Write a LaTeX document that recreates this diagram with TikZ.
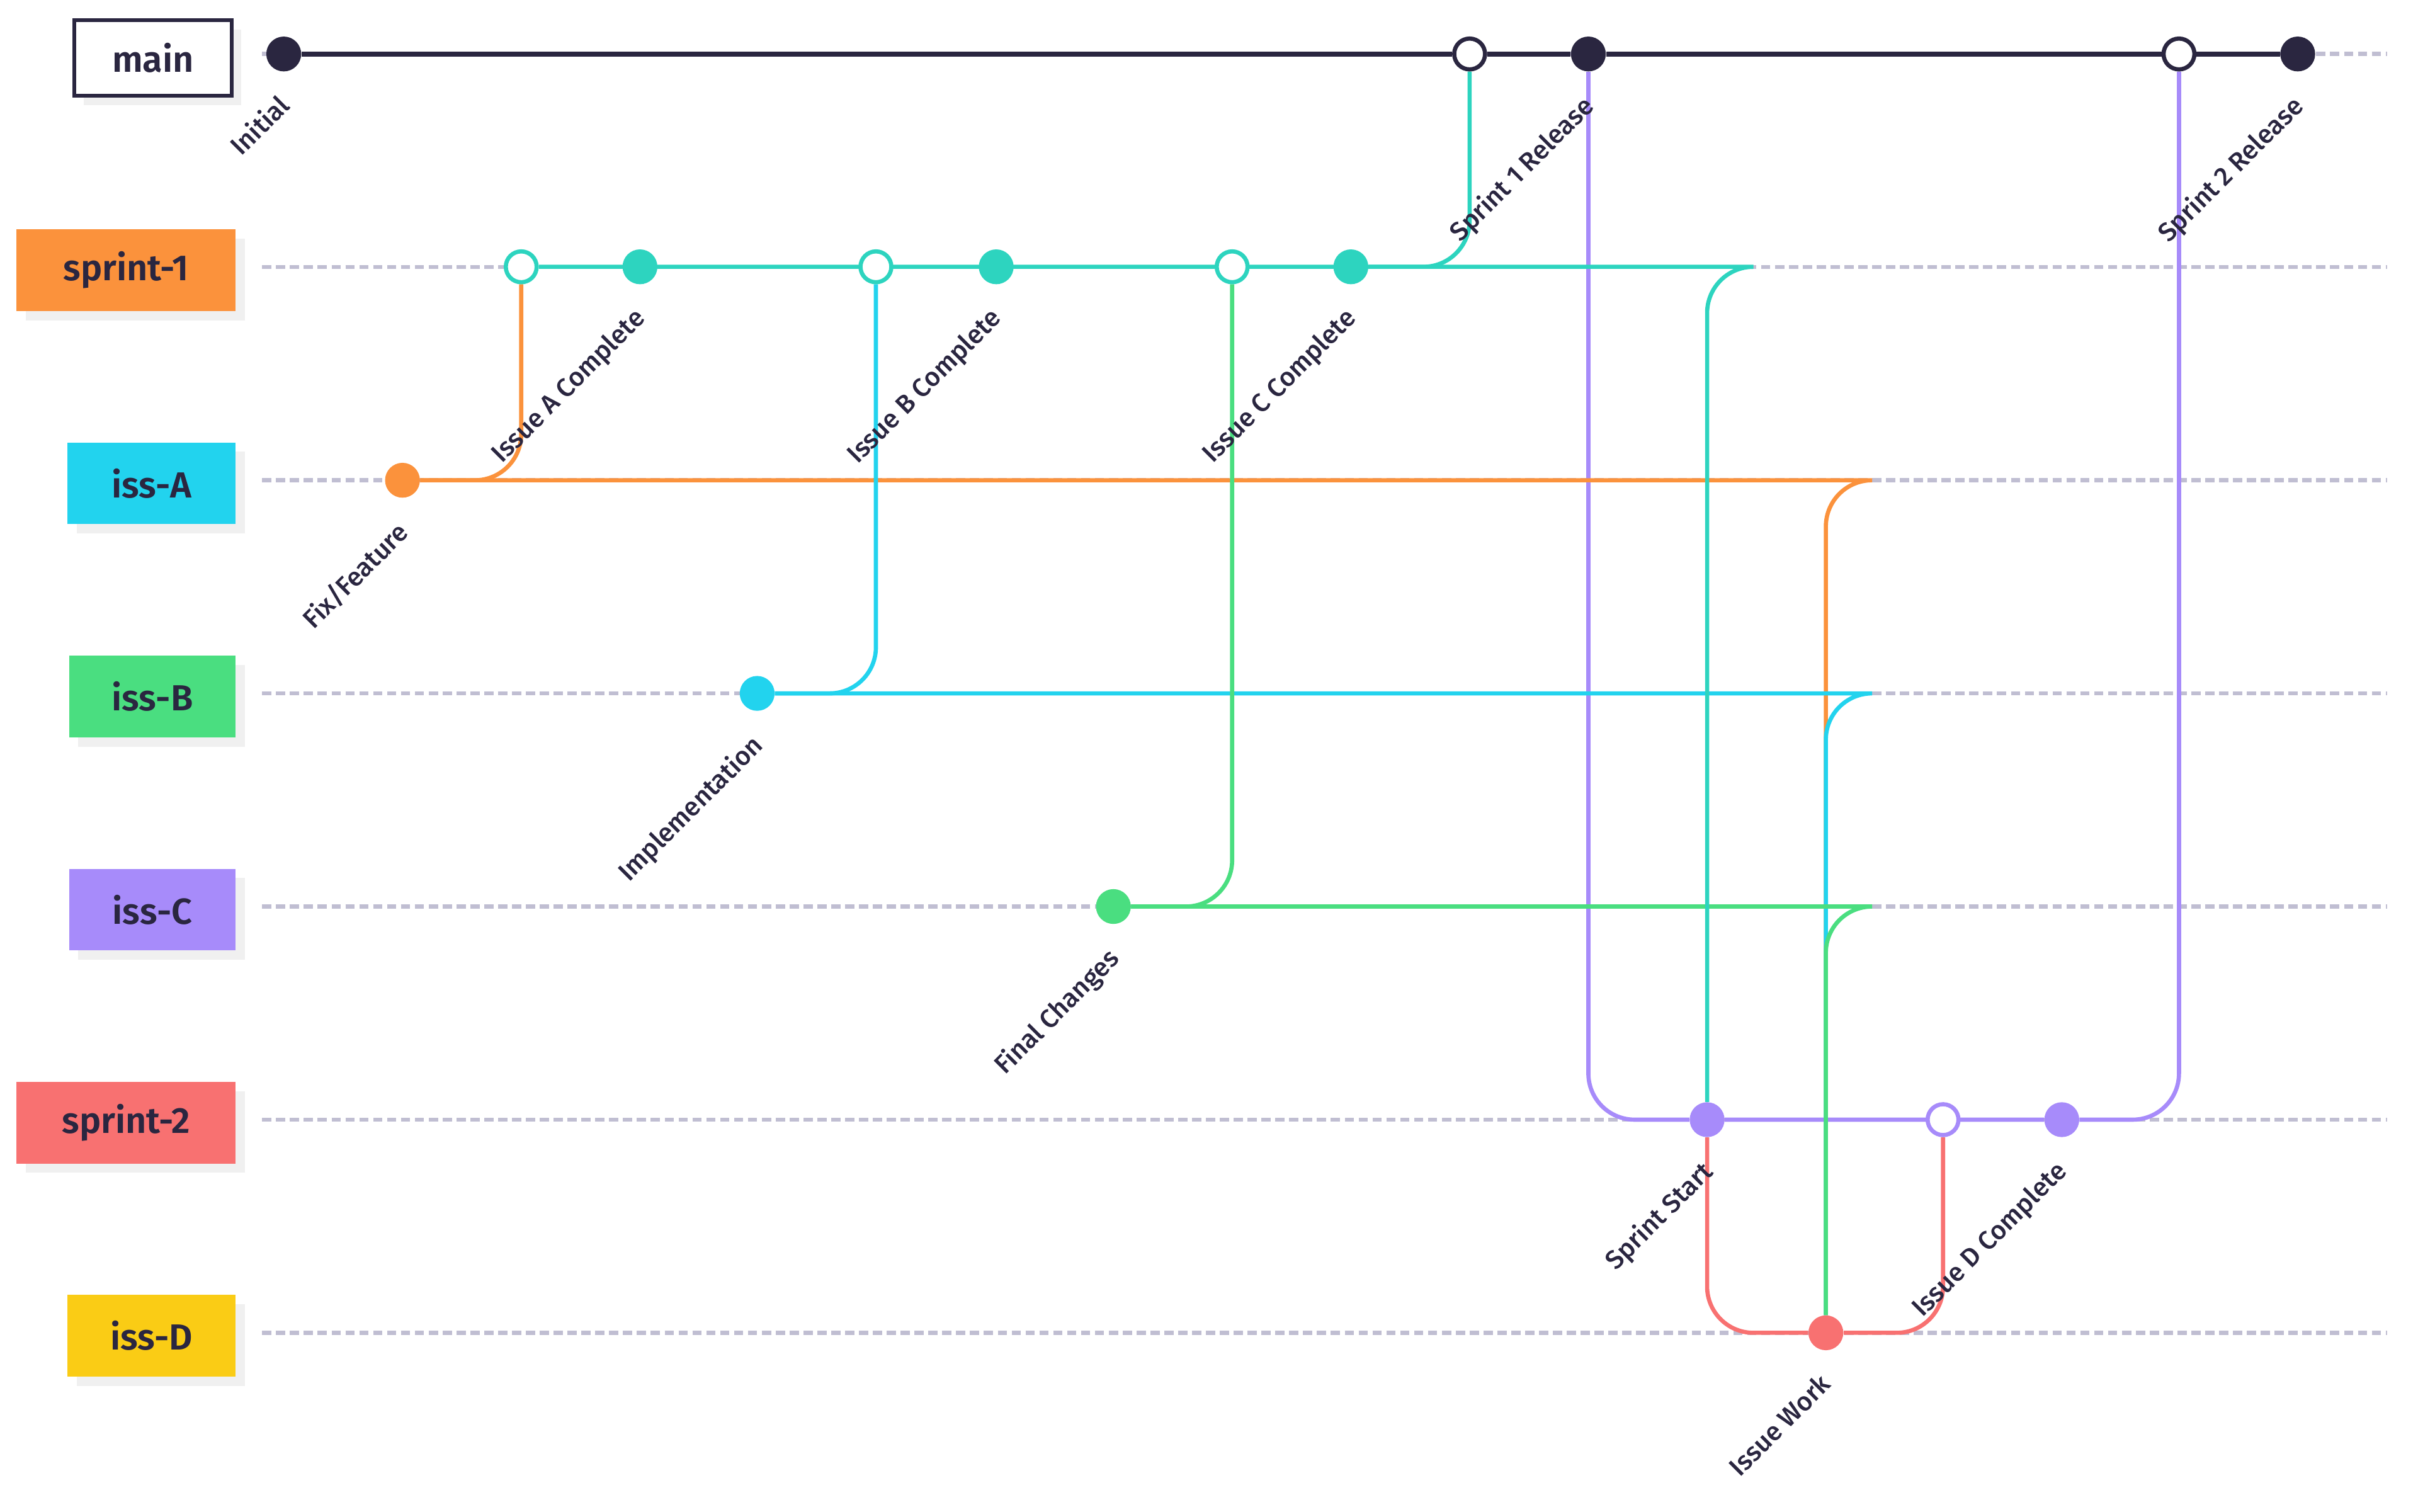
\documentclass[tikz,border=0pt]{standalone}
\usepackage{fontspec}
\setmainfont{Fira Sans}
\newfontfamily\tagfont{Fira Sans SemiBold}
\newfontfamily\msgfont{Fira Sans Medium}
\usetikzlibrary{shadows}
\definecolor{ink}{HTML}{2A2640}
\definecolor{cTeal}{HTML}{2DD4BF}
\definecolor{cOrange}{HTML}{FB923C}
\definecolor{cCyan}{HTML}{22D3EE}
\definecolor{cGreen}{HTML}{4ADE80}
\definecolor{cPurple}{HTML}{A78BFA}
\definecolor{cRed}{HTML}{F87171}
\definecolor{cYellow}{HTML}{FACC15}
\definecolor{cLane}{HTML}{C0BED2}
\definecolor{cShadow}{HTML}{F0F0F0}
\pgfdeclarelayer{lanes}
\pgfdeclarelayer{edges}
\pgfsetlayers{lanes,edges,main}
\tikzset{
  lane/.style={cLane,line width=2.7pt,dash pattern=on 6pt off 3pt},
  trunk/.style={ink,line width=3.4pt},
  twig/.style={line width=2.7pt},
  elbow/.style={twig,rounded corners=30pt},
  commit/.style={circle,fill=#1,inner sep=0pt,minimum size=22.6pt},
  merged/.style={circle,draw=#1,fill=white,line width=2.7pt,inner sep=0pt,minimum size=20pt},
  tag/.style={fill=#1,text=ink,anchor=east,inner xsep=0pt,minimum height=53pt,
    font=\tagfont\fontsize{23.5}{23.5}\selectfont,
    drop shadow={shadow xshift=6pt,shadow yshift=-6pt,fill=cShadow,opacity=1}},
  msg/.style={rotate=45,anchor=north east,inner sep=0pt,text=ink,font=\msgfont\fontsize{17}{17}\selectfont},
}
\begin{document}
\begin{tikzpicture}[x=1pt,y=-1pt]
  \useasboundingbox (0,0) rectangle (1568,980);
  \node[tag=white,draw=ink,line width=2.7pt,minimum width=102pt,minimum height=49pt] (main) at (151.6,37.5) {main};
  \foreach \name/\txt/\col/\w [count=\i] in {s1/sprint-1/cOrange/142,iA/iss-A/cCyan/109,
      iB/iss-B/cGreen/108,iC/iss-C/cPurple/108,s2/sprint-2/cRed/142,iD/iss-D/cYellow/109}
    \node[tag=\col,minimum width=\w pt] (\name) at (153,37+138.2*\i) {\txt};
  \begin{pgfonlayer}{lanes}
    \foreach \i in {0,...,6} \draw[lane] (170,35+138.2*\i) -- (1548,35+138.2*\i);
  \end{pgfonlayer}
  % commits
  \path (184,35) node[commit=ink] (ini) {} (953,35) node[merged=ink] (m1) {}
    (1030,35) node[commit=ink] (rel1) {} (1413,35) node[merged=ink] (m2) {}
    (1490,35) node[commit=ink] (rel2) {};
  \path (338,173) node[merged=cTeal] (s1a) {} (415,173) node[commit=cTeal] (s1b) {}
    (568,173) node[merged=cTeal] (s1c) {} (646,173) node[commit=cTeal] (s1d) {}
    (799,173) node[merged=cTeal] (s1e) {} (876,173) node[commit=cTeal] (s1f) {};
  \path (261,311.4) node[commit=cOrange] (ia) {} (491,449.6) node[commit=cCyan] (ib) {}
    (722,587.8) node[commit=cGreen] (ic) {};
  \path (1107,726) node[commit=cPurple] (s2a) {} (1260,726) node[merged=cPurple] (s2b) {}
    (1337,726) node[commit=cPurple] (s2c) {} (1184,864.2) node[commit=cRed] (id) {};
  \path (1214,311.4) coordinate (hA) (1184,341.4) coordinate (hA2)
    (1214,449.6) coordinate (hB) (1184,479.6) coordinate (hB2)
    (1214,587.8) coordinate (hC) (1184,617.8) coordinate (hC2)
    (1137,173) coordinate (hT) (1107,203) coordinate (hT2);
  \begin{pgfonlayer}{edges}
    \draw[elbow,cPurple] (rel1) |- (s2a) -- (s2c) -| (m2);
    \draw[elbow,cOrange] (ia) -| (s1a);
    \draw[twig,cOrange] (ia) -- (hA) .. controls +(-16.6,0) and +(0,-16.6) .. (hA2) -- (id);
    \draw[elbow,cCyan] (ib) -| (s1c);
    \draw[twig,cCyan] (ib) -- (hB) .. controls +(-16.6,0) and +(0,-16.6) .. (hB2) -- (id);
    \draw[elbow,cGreen] (ic) -| (s1e);
    \draw[twig,cGreen] (ic) -- (hC) .. controls +(-16.6,0) and +(0,-16.6) .. (hC2) -- (id);
    \draw[elbow,cTeal] (s1f) -| (m1);
    \draw[twig,cTeal] (s1a) -- (hT) .. controls +(-16.6,0) and +(0,-16.6) .. (hT2) -- (s2a);
    \draw[elbow,cRed] (s2a) |- (id) -| (s2b);
    \draw[trunk] (ini) -- (m1) -- (rel1) -- (m2) -- (rel2);
  \end{pgfonlayer}
  % messages
  \node[msg] (tIni) at ([xshift=-5pt,yshift=-25pt]ini.center) {Initial};
  \node[msg] (tRel1) at ([xshift=-5pt,yshift=-25pt]rel1.center) {Sprint 1 Release};
  \node[msg] (tRel2) at ([xshift=-5pt,yshift=-25pt]rel2.center) {Sprint 2 Release};
  \node[msg] (tS1b) at ([xshift=-5pt,yshift=-25pt]s1b.center) {Issue A Complete};
  \node[msg] (tS1d) at ([xshift=-5pt,yshift=-25pt]s1d.center) {Issue B Complete};
  \node[msg] (tS1f) at ([xshift=-5pt,yshift=-25pt]s1f.center) {Issue C Complete};
  \node[msg] (tIa) at ([xshift=-5pt,yshift=-25pt]ia.center) {Fix/Feature};
  \node[msg] (tIb) at ([xshift=-5pt,yshift=-25pt]ib.center) {Implementation};
  \node[msg] (tIc) at ([xshift=-5pt,yshift=-25pt]ic.center) {Final Changes};
  \node[msg] (tS2a) at ([xshift=-5pt,yshift=-25pt]s2a.center) {Sprint Start};
  \node[msg] (tS2c) at ([xshift=-5pt,yshift=-25pt]s2c.center) {Issue D Complete};
  \node[msg] (tId) at ([xshift=-5pt,yshift=-25pt]id.center) {Issue Work};
\end{tikzpicture}
\end{document}
